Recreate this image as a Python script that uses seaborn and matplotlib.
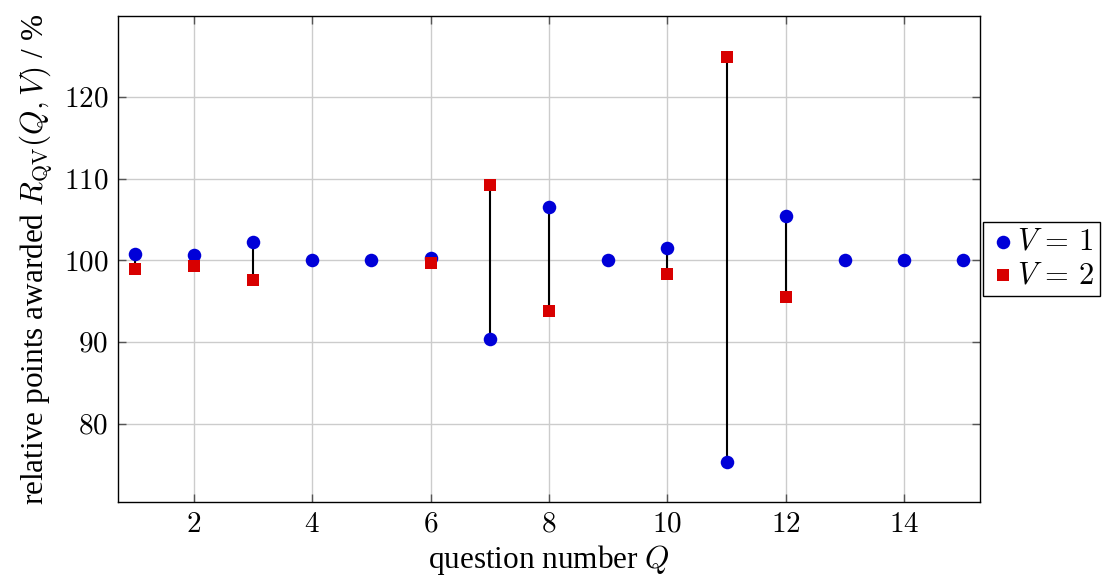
import numpy as np
import pandas as pd
import matplotlib
matplotlib.use("Agg")
import matplotlib.pyplot as plt
import seaborn as sns
from matplotlib.ticker import FormatStrFormatter

# valores
preguntas = list(range(1, 16))
r_v1 = [100.75, 100.65, 102.2, 100.0, 100.0, 100.25, 90.3, 106.5, 100.0, 101.55,
        75.3, 105.4, 100.0, 100.0, 100.0]
r_v2 = [98.97, 99.35, 97.6, np.nan, np.nan, 99.7, 109.2, 93.8, np.nan, 98.3,
        124.9, 95.5, np.nan, np.nan, np.nan]

df = pd.DataFrame({"Q": preguntas, "V1": r_v1, "V2": r_v2})

sns.set_style("white")
plt.rcParams["font.family"] = ["Liberation Serif", "DejaVu Serif"]
plt.rcParams["mathtext.fontset"] = "cm"
plt.rcParams["text.color"] = "black"
plt.rcParams["axes.labelcolor"] = "black"
plt.rcParams["xtick.labelcolor"] = "black"
plt.rcParams["ytick.labelcolor"] = "black"

fig = plt.figure(figsize=(11.14, 5.81), dpi=100)
ax = fig.add_axes([118 / 1114, 1 - 502 / 581, (980 - 118) / 1114, (502 - 16) / 581])

# lineas verticales entre V=1 y V=2
pares = df.dropna(subset=["V2"])
ax.vlines(pares["Q"], pares["V1"], pares["V2"], color="black", lw=1.5, zorder=2)

sns.scatterplot(data=df, x="Q", y="V1", ax=ax, color="#0000d8", marker="o",
                s=95, edgecolor="#0000d8", linewidth=0, zorder=3, label=r"$V\,=\,1$")
sns.scatterplot(data=df.dropna(subset=["V2"]), x="Q", y="V2", ax=ax, color="#d80000",
                marker="s", s=75, edgecolor="#d80000", linewidth=0, zorder=4,
                label=r"$V\,=\,2$")

ax.set_xlim(0.72, 15.28)
ax.set_ylim(70.4, 129.9)
ax.set_xticks([2, 4, 6, 8, 10, 12, 14])
ax.set_yticks([80, 90, 100, 110, 120])
ax.xaxis.set_major_formatter(FormatStrFormatter("$%d$"))
ax.yaxis.set_major_formatter(FormatStrFormatter("$%d$"))
ax.tick_params(direction="in", length=6, width=1, color="#555555", labelsize=21,
               labelcolor="black", top=True, right=True, bottom=True, left=True, pad=7)
ax.grid(True, color="#cccccc", lw=1)
ax.set_axisbelow(True)
for s in ax.spines.values():
    s.set_color("black")
    s.set_linewidth(1)

ax.set_xlabel("question number $Q$", fontsize=22.5, labelpad=4, color="black")
ax.set_ylabel(r"relative points awarded $R_{\mathrm{QV}}(Q,V)$ / %", fontsize=22.5,
              labelpad=6, color="black")

leg = ax.legend(loc="center left", bbox_to_anchor=(1.004, 0.5), fontsize=22,
                frameon=True, fancybox=False, edgecolor="black", framealpha=1,
                handletextpad=0.0, borderpad=0.2, labelspacing=0.15,
                handlelength=0.9, borderaxespad=0)
leg.get_frame().set_linewidth(1)
for t in leg.get_texts():
    t.set_color("black")

fig.savefig("out.png", dpi=100)
